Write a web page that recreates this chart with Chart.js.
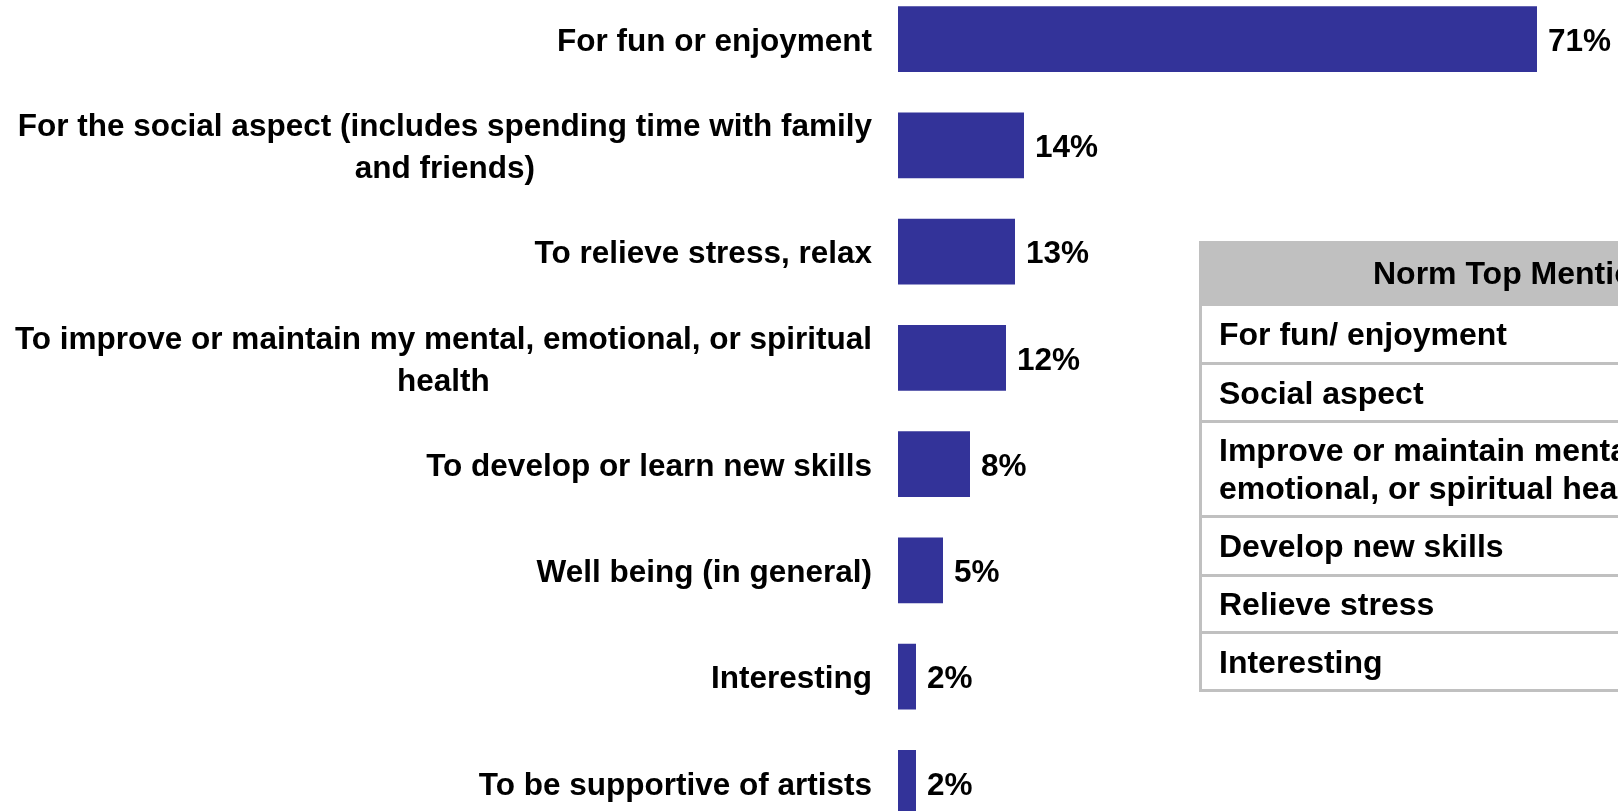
<!DOCTYPE html>
<html>
<head>
<meta charset="utf-8">
<script src="https://cdn.jsdelivr.net/npm/chart.js@4.4.0/dist/chart.umd.min.js"></script>
<style>
    body { margin: 0; width: 1618px; height: 811px; overflow: hidden; background: #fff; position: relative; font-family: "Liberation Sans", Arial, Helvetica, sans-serif; }
    #resultsChart { position: absolute; left: 0; top: -14px; }
    #norms { position: absolute; left: 1199px; top: 241px; width: 640px; border-left: 3px solid #c0c0c0; font-weight: bold; font-size: 32px; color: #000; }
    #norms .head { height: 65px; line-height: 65px; background: #c0c0c0; text-align: center; }
    #norms .row { border-bottom: 3px solid #c0c0c0; padding-left: 17px; display: flex; align-items: center; line-height: 38px; }
</style>
</head>
<body>
<canvas id="resultsChart" width="1618" height="850"></canvas>
<div id="norms"></div>
<script>
const reasons = [
    'For fun or enjoyment',
    ['For the social aspect (includes spending time with family', 'and friends)'],
    'To relieve stress, relax',
    ['To improve or maintain my mental, emotional, or spiritual', 'health'],
    'To develop or learn new skills',
    'Well being (in general)',
    'Interesting',
    'To be supportive of artists'
];
const percents = [71, 14, 13, 12, 8, 5, 2, 2];

const normTitle = 'Norm Top Mentions';
const normRows = [
    ['For fun/ enjoyment'],
    ['Social aspect'],
    ['Improve or maintain mental,', 'emotional, or spiritual health'],
    ['Develop new skills'],
    ['Relieve stress'],
    ['Interesting']
];
const normHeights = [56, 55, 92, 56, 54, 55];

// side table of norm mentions
const norms = document.getElementById('norms');
const head = document.createElement('div');
head.className = 'head';
head.textContent = normTitle;
norms.append(head);
normRows.forEach((lines, i) => {
    const row = document.createElement('div');
    row.className = 'row';
    row.style.height = normHeights[i] + 'px';
    row.innerHTML = lines.join('<br>');
    norms.append(row);
});

const labelFont = 'bold 31.5px "Liberation Sans", Arial, Helvetica, sans-serif';

// category labels: right-aligned blocks, lines centred inside the block
const reasonLabels = {
    id: 'reasonLabels',
    afterDraw(chart) {
        const ctx = chart.ctx;
        const yScale = chart.scales.y;
        const right = chart.chartArea.left - 26;
        const lineH = 42;
        ctx.save();
        ctx.font = labelFont;
        ctx.fillStyle = '#000';
        ctx.textAlign = 'center';
        ctx.textBaseline = 'middle';
        reasons.forEach((label, i) => {
            const lines = Array.isArray(label) ? label : [label];
            const widest = Math.max(...lines.map(l => ctx.measureText(l).width));
            const cx = right - widest / 2;
            const y0 = yScale.getPixelForTick(i) - (lines.length - 1) * lineH / 2;
            lines.forEach((l, j) => ctx.fillText(l, cx, y0 + j * lineH + 3));
        });
        ctx.restore();
    }
};

// percent value at the end of each bar
const valueLabels = {
    id: 'valueLabels',
    afterDatasetsDraw(chart) {
        const ctx = chart.ctx;
        const bars = chart.getDatasetMeta(0).data;
        ctx.save();
        ctx.font = labelFont;
        ctx.fillStyle = '#000';
        ctx.textAlign = 'left';
        ctx.textBaseline = 'middle';
        bars.forEach((bar, i) => {
            ctx.fillText(percents[i] + '%', bar.x + 11, bar.y + 3);
        });
        ctx.restore();
    }
};

const ctx = document.getElementById('resultsChart').getContext('2d');
new Chart(ctx, {
    type: 'bar',
    data: {
        labels: reasons,
        datasets: [{
            data: percents,
            backgroundColor: '#333399',
            borderWidth: 0,
            barPercentage: 0.62,
            categoryPercentage: 1.0
        }]
    },
    options: {
        indexAxis: 'y',
        responsive: false,
        animation: false,
        devicePixelRatio: 1,
        layout: { padding: 0 },
        plugins: {
            legend: { display: false },
            tooltip: { enabled: false }
        },
        scales: {
            x: {
                display: false,
                min: 0,
                max: 80
            },
            y: {
                grid: { display: false, drawTicks: false },
                border: { display: false },
                ticks: { display: false },
                afterFit(scale) {
                    scale.width = 898;
                }
            }
        }
    },
    plugins: [reasonLabels, valueLabels]
});
</script>
</body>
</html>
